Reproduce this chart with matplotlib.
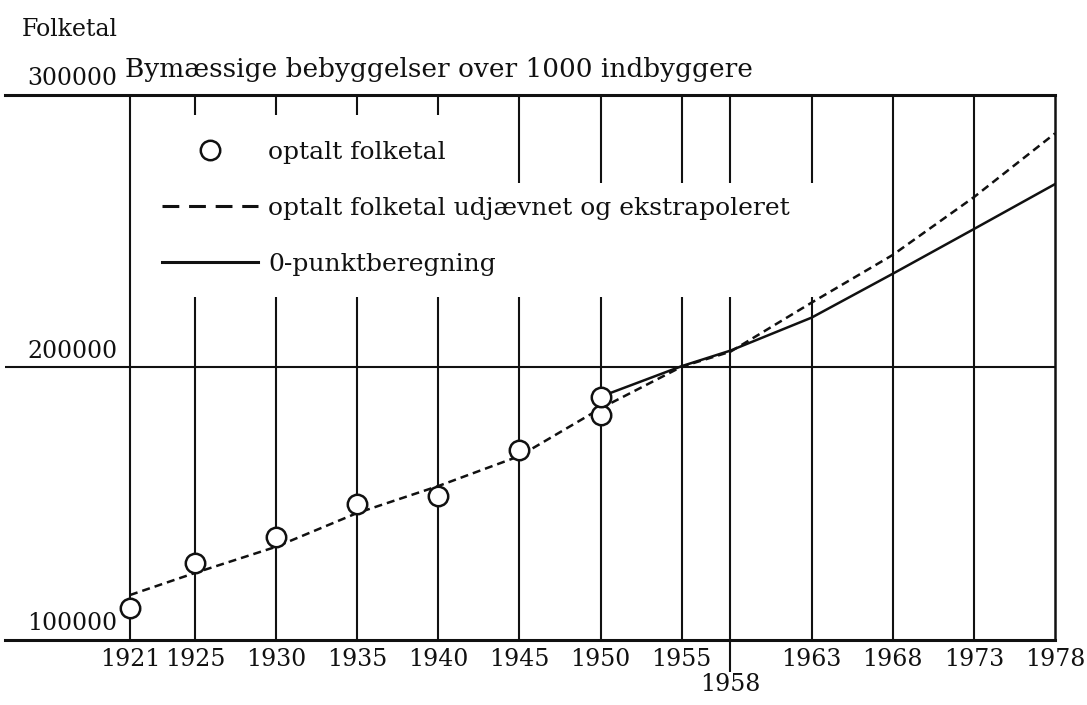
# Bymæssige bebyggelser over 1000 indbyggere - folketal 1921-1978
import matplotlib
matplotlib.use("Agg")
from matplotlib import pyplot as plt
from matplotlib.lines import Line2D
from matplotlib.patches import Rectangle

plt.rcParams['font.family'] = ['DejaVu Serif']

# optalt folketal (to cirkler ved 1950)
circle_years = [1921, 1925, 1930, 1935, 1940, 1945, 1950, 1950]
circle_vals = [111700, 128400, 137700, 149900, 152800, 169700, 182600, 189300]

# optalt folketal udjævnet og ekstrapoleret
dash_years = [1921, 1925, 1930, 1935, 1940, 1945, 1950, 1955, 1958, 1963, 1968, 1973, 1978]
dash_vals = [116500, 124600, 134200, 146600, 156500, 167500, 185000, 200300, 205800,
             223800, 241300, 262500, 285900]

# 0-punktberegning
solid_years = [1950, 1955, 1958, 1963, 1968, 1973, 1978]
solid_vals = [189300, 200500, 206200, 218300, 234400, 250800, 267300]

grid_years = [1921, 1925, 1930, 1935, 1940, 1945, 1950, 1955, 1958, 1963, 1968, 1973]
tick_years = [1921, 1925, 1930, 1935, 1940, 1945, 1950, 1955, 1963, 1968, 1973, 1978]
low_year = 1958   # står lavere under aksen
y_labels = [100000, 200000, 300000]

ink = '#111111'
fs = 17

fig = plt.figure(figsize=(10.87, 7.05), dpi=100)
ax = fig.add_axes([5/1087, 65/705, 1050/1087, 545/705])
ax.set_xlim(1913.3, 1978)
ax.set_ylim(100000, 300000)

# rammen
ax.spines['left'].set_visible(False)
for s in ['top', 'bottom']:
    ax.spines[s].set_linewidth(2.2)
    ax.spines[s].set_color(ink)
ax.spines['right'].set_linewidth(1.8)
ax.spines['right'].set_color(ink)

# lodrette linjer og 200000-linjen
ax.vlines(grid_years, 100000, 300000, colors=ink, lw=1.5, zorder=1)
ax.axhline(200000, color=ink, lw=1.5, zorder=1)

# hvid plads til signaturforklaringen
ax.add_patch(Rectangle((1922.5, 225900), 21.0, 66800, fc='white', ec='none', zorder=1.5))
ax.add_patch(Rectangle((1943.5, 225900), 21.0, 41800, fc='white', ec='none', zorder=1.5))

# kurverne
ax.plot(dash_years, dash_vals, color=ink, lw=1.8, dashes=(3.2, 2.0), zorder=3)
ax.plot(solid_years, solid_vals, color=ink, lw=1.8, zorder=3)
ax.plot(circle_years, circle_vals, 'o', ms=14, mfc='white', mec=ink, mew=1.8, zorder=4)

# x-akse
ax.set_xticks(tick_years, [str(y) for y in tick_years], fontsize=fs, color=ink)
ax.tick_params(axis='x', which='major', length=0, pad=6)
ax.set_xticks([low_year], [str(low_year)], minor=True, fontsize=fs, color=ink)
ax.tick_params(axis='x', which='minor', length=23, width=1.5, color=ink,
               direction='out', pad=1)
ax.set_yticks([])

# y-værdier over linjerne
for v in y_labels:
    ax.annotate(f"{v}", xy=(1921, v), xytext=(-9, 7), textcoords='offset points',
                ha='right', va='baseline', fontsize=fs, color=ink)

fig.text(118/1087, 1 - 30/705, "Folketal", ha='right', va='center', fontsize=fs, color=ink)
fig.text(125/1087, 1 - 70/705, "Bymæssige bebyggelser over 1000 indbyggere",
         ha='left', va='center', fontsize=19, color=ink)

# signaturforklaring
handles = [
    Line2D([], [], ls='none', marker='o', ms=14, mfc='white', mec=ink, mew=1.8),
    Line2D([], [], color=ink, lw=2.2, dashes=(5.5, 3.2)),
    Line2D([], [], color=ink, lw=2.2),
]
labels = ["optalt folketal",
          "optalt folketal udjævnet og ekstrapoleret",
          "0-punktberegning"]
ax.legend(handles, labels, loc='upper left', bbox_to_anchor=(162/1087, 1 - 141/705),
          bbox_transform=fig.transFigure, frameon=False, fontsize=18,
          handlelength=3.84, handletextpad=0.4, labelspacing=1.32,
          borderpad=0, borderaxespad=0, labelcolor=ink)

fig.savefig("out.png", dpi=100)
